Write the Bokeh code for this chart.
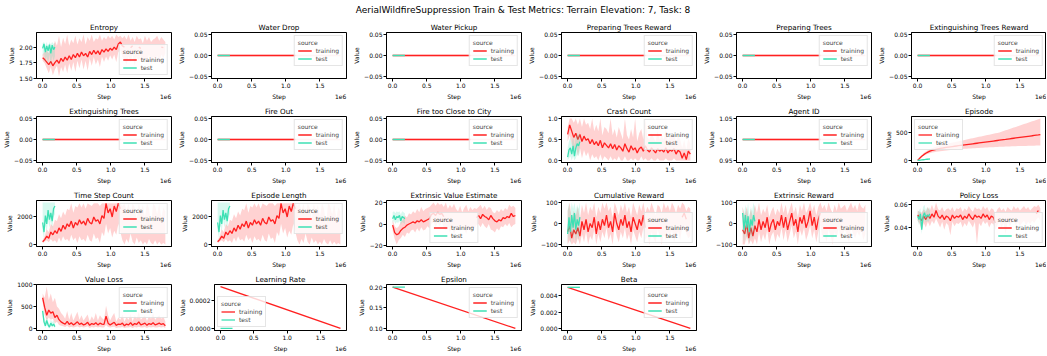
import math
from bokeh.plotting import figure
from bokeh.models import Range1d, FixedTicker, Div, LinearAxis
from bokeh.layouts import column, row
from bokeh.embed import file_html
from bokeh.resources import INLINE

nan = float("nan")
FONT = "DejaVu Sans"
TRAIN_COLOR = "#ff2020"
TEST_COLOR = "#3ee0b4"
TRAIN_BAND_LINE = "#ffc8c8"
LINE_W = 1.3

SUPTITLE = "AerialWildfireSuppression Train & Test Metrics: Terrain Elevation: 7, Task: 8"
X_TICKS = [0.0, 0.5, 1.0, 1.5]
X_TICK_LABELS = ["0.0", "0.5", "1.0", "1.5"]
X_LABEL = "Step"
Y_LABEL = "Value"
X_OFFSET_TEXT = "1e6"

# steps, in millions
TRAIN_STEPS = [0.00, 0.03, 0.06, 0.09, 0.12, 0.15, 0.18, 0.21, 0.24, 0.27,
               0.30, 0.33, 0.36, 0.39, 0.42, 0.45, 0.48, 0.51, 0.54, 0.57,
               0.60, 0.63, 0.66, 0.69, 0.72, 0.75, 0.78, 0.81, 0.84, 0.87,
               0.90, 0.93, 0.96, 0.99, 1.02, 1.05, 1.08, 1.11, 1.14, 1.17,
               1.20, 1.23, 1.26, 1.29, 1.32, 1.35, 1.38, 1.41, 1.44, 1.47,
               1.50, 1.53, 1.56, 1.59, 1.62, 1.65, 1.68, 1.71, 1.74, 1.77,
               1.80]
TEST_STEPS = [0.00, 0.02, 0.04, 0.06, 0.08, 0.10, 0.12, 0.14, 0.16, 0.18]

# ---- Entropy
ENTROPY_TRAIN = [1.83, 1.80, 1.76, 1.72, 1.77, 1.70, 1.75, 1.79, 1.74, 1.82,
                 1.77, 1.84, 1.79, 1.86, 1.80, 1.88, 1.83, 1.90, 1.84, 1.92,
                 1.86, 1.90, 1.84, 1.93, 1.88, 1.95, 1.89, 1.94, 1.88, 1.96,
                 1.92, 1.97, 1.93, 1.98, 1.95, 2.00, 1.96, 2.05, 2.08, 2.02,
                 2.00, nan, nan, 1.99, 2.02, nan, nan, 2.00, 1.98, nan,
                 nan, nan, nan, nan, nan, nan, nan, nan, 2.00, 1.99,
                 nan]
ENTROPY_TRAIN_LO = [1.78, 1.74, 1.66, 1.58, 1.68, 1.55, 1.64, 1.70, 1.53, 1.68,
                    1.60, 1.72, 1.58, 1.74, 1.62, 1.76, 1.60, 1.78, 1.66, 1.80,
                    1.64, 1.78, 1.62, 1.82, 1.70, 1.84, 1.72, 1.80, 1.68, 1.85,
                    1.76, 1.85, 1.78, 1.87, 1.80, 1.88, 1.76, 1.92, 1.95, 1.84,
                    1.80, 1.72, 1.85, 1.76, 1.88, 1.70, 1.84, 1.78, 1.86, 1.74,
                    1.82, 1.76, 1.88, 1.72, 1.84, 1.80, 1.86, 1.74, 1.88, 1.82,
                    1.90]
ENTROPY_TRAIN_HI = [1.88, 1.92, 1.95, 1.90, 2.00, 1.96, 2.10, 2.02, 2.18, 2.00,
                    2.15, 2.05, 2.20, 2.02, 2.12, 2.06, 2.18, 2.04, 2.14, 2.08,
                    2.20, 2.04, 2.16, 2.10, 2.20, 2.08, 2.14, 2.12, 2.20, 2.10,
                    2.16, 2.12, 2.18, 2.14, 2.18, 2.12, 2.20, 2.16, 2.18, 2.14,
                    2.18, 2.12, 2.20, 2.10, 2.16, 2.08, 2.18, 2.12, 2.14, 2.06,
                    2.18, 2.10, 2.16, 2.08, 2.12, 2.14, 2.18, 2.10, 2.16, 2.12,
                    2.08]
ENTROPY_TEST = [1.98, 2.05, 1.92, 2.02, 1.94, 2.04, 1.90, 2.03, 1.96, 2.00]
ENTROPY_TEST_LO = [1.85, 1.90, 1.75, 1.85, 1.72, 1.88, 1.70, 1.86, 1.78, 1.85]
ENTROPY_TEST_HI = [2.06, 2.08, 2.02, 2.08, 2.00, 2.08, 2.04, 2.08, 2.05, 2.07]
ENTROPY_YTICKS = [1.5, 1.75, 2.0]
ENTROPY_YLABELS = ["1.50", "1.75", "2.00"]

# ---- flat metrics (all zero): mean drawn to 1.14e6, band to 1.8e6
FLAT_MEAN_STEPS = [0.0, 1.14]
FLAT_BAND_STEPS = [0.0, 1.80]
FLAT_TEST_STEPS = [0.0, 0.18]
ZERO_PAIR = [0.0, 0.0]
ZERO_YTICKS = [-0.05, 0.0, 0.05]
ZERO_YLABELS = ["\u22120.05", "0.00", "0.05"]

# ---- Agent ID
ONE_PAIR = [1.0, 1.0]
AGENT_YTICKS = [0.95, 1.0, 1.05]
AGENT_YLABELS = ["0.95", "1.00", "1.05"]

# ---- Crash Count
CRASH_TRAIN = [0.62, 0.85, 0.70, 0.55, 0.65, 0.50, 0.62, 0.45, 0.58, 0.48,
               0.52, 0.40, 0.50, 0.38, 0.45, 0.35, 0.48, 0.30, 0.42, 0.36,
               0.30, 0.40, 0.28, 0.38, 0.25, 0.35, 0.30, 0.22, 0.40, 0.28,
               0.20, 0.35, 0.25, 0.30, 0.18, 0.28, 0.32, 0.22, 0.35, 0.25,
               0.20, 0.30, 0.24, 0.18, 0.28, 0.22, 0.26, 0.20, 0.30, 0.18,
               0.25, 0.22, 0.28, 0.15, 0.24, 0.20, 0.05, 0.18, 0.02, 0.22,
               0.15]
CRASH_TRAIN_LO = [0.45, 0.60, 0.40, 0.20, 0.35, 0.10, 0.30, 0.05, 0.25, 0.10,
                  0.20, 0.00, 0.15, 0.05, 0.10, 0.00, 0.15, 0.00, 0.10, 0.05,
                  0.00, 0.10, 0.00, 0.05, 0.00, 0.10, 0.00, 0.00, 0.10, 0.00,
                  0.00, 0.05, 0.00, 0.05, 0.00, 0.00, 0.10, 0.00, 0.05, 0.00,
                  0.00, 0.05, 0.00, 0.00, 0.05, 0.00, 0.00, 0.00, 0.05, 0.00,
                  0.00, 0.00, 0.05, 0.00, 0.00, 0.00, 0.00, 0.00, 0.00, 0.00,
                  0.00]
CRASH_TRAIN_HI = [0.80, 1.00, 1.00, 0.90, 1.00, 0.85, 1.00, 0.80, 1.00, 0.85,
                  0.90, 0.75, 1.00, 0.70, 0.85, 0.70, 1.00, 0.60, 0.80, 0.75,
                  0.65, 1.00, 0.60, 0.75, 0.55, 0.80, 0.65, 0.50, 1.00, 0.60,
                  0.50, 0.75, 0.55, 1.00, 0.45, 0.65, 0.75, 0.50, 1.00, 0.55,
                  0.50, 0.65, 0.55, 0.45, 0.70, 0.50, 0.60, 0.50, 0.75, 0.45,
                  0.60, 0.55, 0.65, 0.40, 0.60, 0.50, 0.30, 0.50, 0.25, 0.55,
                  0.40]
CRASH_TEST = [0.08, 0.25, 0.30, 0.15, 0.35, 0.10, 0.30, 0.40, 0.35, 0.45]
CRASH_TEST_LO = [0.00, 0.05, 0.10, 0.00, 0.10, 0.00, 0.05, 0.15, 0.10, 0.20]
CRASH_TEST_HI = [0.30, 0.45, 0.55, 0.40, 0.60, 0.35, 0.55, 0.65, 0.60, 0.70]
CRASH_YTICKS = [0.0, 0.5, 1.0]
CRASH_YLABELS = ["0.0", "0.5", "1.0"]

# ---- Episode
EPISODE_TRAIN = [0, 40, 75, 105, 130, 150, 168, 182, 193, 202,
                 210, 217, 224, 230, 236, 242, 247, 252, 257, 262,
                 267, 272, 277, 282, 287, 292, 297, 302, 307, 312,
                 317, 322, 327, 332, 337, 342, 347, 352, 357, 362,
                 367, 372, 377, 382, 388, 393, 398, 403, 408, 413,
                 418, 423, 428, 433, 438, 443, 448, 454, 459, 464,
                 470]
EPISODE_TRAIN_LO = [0, 30, 60, 85, 105, 120, 132, 142, 150, 157,
                    163, 168, 173, 177, 181, 185, 189, 192, 195, 198,
                    201, 204, 207, 210, 213, 215, 218, 220, 223, 225,
                    227, 229, 231, 233, 235, 237, 239, 241, 243, 245,
                    246, 248, 250, 251, 253, 254, 256, 257, 259, 260,
                    261, 262, 263, 264, 265, 266, 267, 268, 269, 270,
                    270]
EPISODE_TRAIN_HI = [0, 55, 95, 135, 160, 185, 205, 220, 235, 248,
                    260, 270, 280, 290, 300, 308, 316, 324, 332, 340,
                    348, 356, 364, 372, 380, 388, 396, 404, 412, 420,
                    428, 436, 444, 452, 460, 468, 476, 484, 492, 500,
                    508, 520, 533, 546, 558, 571, 584, 596, 609, 622,
                    634, 647, 660, 672, 685, 697, 710, 722, 735, 748,
                    760]
EPISODE_TEST = [0, 3, 6, 9, 12, 15, 18, 21, 24, 26]
EPISODE_TEST_LO = [0, 1, 3, 5, 7, 9, 11, 13, 15, 17]
EPISODE_TEST_HI = [0, 5, 9, 13, 17, 21, 25, 29, 33, 35]
EPISODE_YTICKS = [0, 500]
EPISODE_YLABELS = ["0", "500"]

# ---- Time Step Count / Episode Length
STEPCOUNT_TRAIN = [200, 350, 600, 450, 900, 700, 1000, 800, 1200, 950,
                   1400, 1100, 1500, 1300, 1700, 1200, 1600, 1400, 1800, 1500,
                   1700, 1400, 1900, 1600, 1500, 2000, 1700, 1800, 1500, 2100,
                   1900, 3000, 2300, 2600, 2000, 2800, 2400, 3000, 2600, nan,
                   nan, nan, nan, nan, nan, nan, nan, nan, nan, nan,
                   nan, nan, nan, nan, nan, nan, nan, nan, nan, nan,
                   nan]
STEPCOUNT_TRAIN_LO = [100, 200, 300, 150, 400, 200, 300, 100, 500, 200,
                      600, 300, 400, 200, 700, 300, 500, 100, 600, 300,
                      400, 200, 700, 300, 200, 800, 400, 500, 100, 900,
                      600, 1500, 800, 1200, 500, 1000, 700, 1500, 900, 300,
                      0, 400, 100, 800, 200, 0, 500, 100, 300, 0,
                      200, 0, 400, 100, 0, 300, 0, 200, 0, 100,
                      0]
STEPCOUNT_TRAIN_HI = [300, 600, 1100, 900, 1500, 1300, 1800, 1700, 2200, 1900,
                      2400, 2100, 2600, 2500, 3000, 2300, 2800, 2700, 3000, 2700,
                      3000, 2600, 3000, 2900, 2800, 3000, 3000, 3000, 2800, 3000,
                      3000, 3000, 3000, 3000, 3000, 3000, 3000, 3000, 3000, 2800,
                      3000, 2500, 3000, 2200, 3000, 2700, 1800, 3000, 2400, 2900,
                      2000, 3000, 2600, 1500, 3000, 2800, 2200, 3000, 1900, 2700,
                      2400]
STEPCOUNT_TEST = [1600, 900, 2100, 1500, 2500, 1800, 2300, 1700, 2600, 2800]
STEPCOUNT_TEST_LO = [1000, 400, 1400, 900, 1800, 1200, 1700, 1100, 2000, 2200]
STEPCOUNT_TEST_HI = [3050, 3050, 3050, 3050, 3050, 3050, 3050, 3050, 3050, 3050]
STEPCOUNT_YTICKS = [0, 2000]
STEPCOUNT_YLABELS = ["0", "2000"]

# ---- Extrinsic Value Estimate
VALUE_EST_TRAIN = [-1, -8, -10, -9, -6, -4, -3, -1, 0, 1,
                   2, 1, 3, 2, 4, 2, 3, 4, 5, 9,
                   10, 8, 11, 9, 10, 7, nan, nan, nan, nan,
                   nan, nan, nan, nan, nan, nan, nan, nan, nan, nan,
                   nan, 6, 8, 5, 9, 7, 6, 4, 8, 5,
                   3, 2, 4, 3, 6, 5, 7, 6, 10, 7,
                   8]
VALUE_EST_TRAIN_LO = [-6, -14, -19, -15, -13, -10, -12, -8, -9, -6,
                      -5, -8, -4, -7, -3, -6, -5, -2, -4, 0,
                      2, -3, 1, -2, 3, -4, -6, -2, -8, -3,
                      -10, -4, -2, -7, -1, -5, -9, -2, -6, -3,
                      -4, -1, 0, -3, 1, -2, -4, 0, -5, -6,
                      -8, -4, -6, -2, -3, 0, -2, 1, -3, -1,
                      0]
VALUE_EST_TRAIN_HI = [4, -2, -4, -2, 2, 4, 8, 6, 10, 9,
                      12, 10, 14, 11, 16, 12, 14, 15, 16, 18,
                      20, 17, 20, 18, 19, 16, 20, 14, 18, 15,
                      19, 14, 12, 17, 11, 15, 18, 12, 16, 13,
                      15, 14, 16, 18, 14, 17, 13, 16, 15, 11,
                      10, 13, 11, 14, 12, 15, 13, 18, 16, 17,
                      15]
VALUE_EST_TEST = [5, 8, 4, 7, 6, 8, 3, 7, 6, 5]
VALUE_EST_TEST_LO = [1, 3, 0, 2, 1, 3, -1, 2, 1, 0]
VALUE_EST_TEST_HI = [11, 12, 10, 12, 11, 12, 9, 12, 11, 10]
VALUE_EST_YTICKS = [-20, 0, 20]
VALUE_EST_YLABELS = ["\u221220", "0", "20"]

# ---- Cumulative Reward
CUM_REWARD_TRAIN = [-40, -10, -70, -30, -50, -20, -60, 10, -30, 20,
                    -40, 0, -20, 30, -50, 10, -30, 20, -10, 40,
                    -20, 10, -40, 50, 0, -30, 20, -10, 40, -20,
                    10, -40, 30, 0, -30, 20, -10, 40, -20, nan,
                    nan, nan, nan, nan, nan, nan, nan, nan, nan, nan,
                    nan, nan, nan, nan, nan, nan, 30, 50, 20, nan,
                    nan]
CUM_REWARD_TRAIN_LO = [-100, -80, -100, -90, -100, -70, -100, -50, -90, -40,
                       -100, -60, -80, -30, -100, -50, -90, -40, -70, -20,
                       -80, -50, -100, -10, -60, -90, -40, -70, -20, -80,
                       -50, -100, -30, -60, -90, -40, -70, -20, -80, -60,
                       -100, -40, -70, -90, -30, -60, -100, -50, -80, -40,
                       -70, -30, -90, -60, -40, -80, -20, -10, -50, -70,
                       -60]
CUM_REWARD_TRAIN_HI = [60, 100, 20, 60, 40, 80, 20, 90, 50, 100,
                       40, 80, 60, 100, 30, 80, 50, 100, 70, 100,
                       60, 80, 30, 100, 70, 40, 90, 60, 100, 50,
                       80, 30, 100, 70, 40, 90, 60, 100, 50, 80,
                       60, 100, 70, 40, 90, 80, 50, 100, 70, 90,
                       60, 100, 80, 50, 90, 70, 100, 90, 60, 80,
                       70]
CUM_REWARD_TEST = [-50, 30, -40, 40, -20, 50, -30, 20, -10, 30]
CUM_REWARD_TEST_LO = [-100, -40, -100, -30, -90, -20, -100, -50, -80, -40]
CUM_REWARD_TEST_HI = [60, 100, 50, 100, 70, 100, 60, 90, 70, 100]
REWARD_YTICKS = [-100, 0, 100]
REWARD_YLABELS = ["\u2212100", "0", "100"]

# ---- Extrinsic Reward
EXT_REWARD_TRAIN = [-30, -50, 0, -70, -20, -60, -10, -40, 20, -30,
                    10, -20, 30, -40, 0, 20, -30, 10, -10, 40,
                    -20, 30, -30, 10, 50, -10, 20, -40, 30, 0,
                    40, -20, 10, 60, -10, 30, -30, 20, 50, nan,
                    nan, nan, nan, nan, nan, nan, nan, nan, nan, nan,
                    nan, nan, nan, nan, nan, nan, nan, nan, nan, nan,
                    nan]
EXT_REWARD_TRAIN_LO = [-100, -100, -60, -100, -80, -100, -70, -100, -40, -90,
                       -50, -80, -30, -100, -60, -40, -90, -50, -70, -20,
                       -80, -30, -90, -50, -10, -70, -40, -100, -30, -60,
                       -20, -80, -50, -10, -70, -30, -90, -40, -10, -70,
                       -50, -90, -30, -60, -100, -40, -70, -20, -80, -50,
                       -30, -60, -90, -20, -50, -70, -40, -60, -30, -80,
                       -50]
EXT_REWARD_TRAIN_HI = [80, 40, 80, 20, 70, 30, 90, 50, 100, 40,
                       70, 50, 90, 30, 60, 80, 40, 70, 50, 100,
                       50, 90, 40, 70, 100, 50, 80, 30, 90, 60,
                       100, 50, 70, 100, 60, 90, 40, 80, 100, 70,
                       90, 60, 100, 70, 50, 90, 60, 100, 70, 80,
                       90, 60, 80, 100, 70, 90, 60, 100, 80, 70,
                       90]
EXT_REWARD_TEST = [50, -30, 40, -20, 35, -40, 20, -10, 40, 10]
EXT_REWARD_TEST_LO = [-20, -100, -30, -90, -40, -100, -50, -80, -30, -60]
EXT_REWARD_TEST_HI = [80, 40, 90, 50, 100, 30, 80, 60, 100, 70]

# ---- Policy Loss
POLICY_TRAIN = [0.051, 0.049, 0.046, 0.050, 0.047, 0.051, 0.048, 0.052, 0.049, 0.055,
                0.050, 0.048, 0.051, 0.047, 0.050, 0.049, 0.046, 0.051, 0.048, 0.050,
                0.049, 0.051, 0.047, 0.050, 0.048, 0.052, 0.049, 0.047, 0.051, 0.049,
                0.050, 0.048, 0.052, 0.049, 0.051, 0.047, 0.050, 0.049, 0.044, nan,
                nan, nan, nan, nan, nan, nan, nan, nan, nan, nan,
                nan, nan, nan, nan, nan, nan, nan, nan, 0.052, 0.055,
                nan]
POLICY_TRAIN_LO = [0.046, 0.043, 0.038, 0.044, 0.040, 0.045, 0.041, 0.046, 0.043, 0.048,
                   0.044, 0.040, 0.045, 0.038, 0.044, 0.042, 0.033, 0.045, 0.041, 0.044,
                   0.043, 0.045, 0.040, 0.044, 0.041, 0.046, 0.043, 0.040, 0.045, 0.025,
                   0.044, 0.041, 0.046, 0.043, 0.045, 0.040, 0.044, 0.043, 0.038, 0.042,
                   0.045, 0.040, 0.044, 0.034, 0.045, 0.041, 0.044, 0.046, 0.042, 0.045,
                   0.041, 0.044, 0.046, 0.042, 0.045, 0.043, 0.046, 0.044, 0.047, 0.049,
                   0.046]
POLICY_TRAIN_HI = [0.055, 0.054, 0.053, 0.056, 0.054, 0.058, 0.055, 0.060, 0.055, 0.062,
                   0.056, 0.055, 0.058, 0.054, 0.056, 0.057, 0.055, 0.058, 0.054, 0.057,
                   0.056, 0.058, 0.054, 0.057, 0.055, 0.059, 0.056, 0.054, 0.058, 0.056,
                   0.057, 0.055, 0.059, 0.056, 0.058, 0.054, 0.057, 0.056, 0.052, 0.056,
                   0.058, 0.055, 0.057, 0.054, 0.058, 0.056, 0.055, 0.059, 0.056, 0.058,
                   0.055, 0.057, 0.059, 0.056, 0.058, 0.055, 0.057, 0.059, 0.058, 0.060,
                   0.057]
POLICY_TEST = [0.050, 0.047, 0.052, 0.038, 0.050, 0.053, 0.049, 0.051, 0.050, 0.052]
POLICY_TEST_LO = [0.046, 0.042, 0.047, 0.034, 0.045, 0.048, 0.044, 0.046, 0.045, 0.047]
POLICY_TEST_HI = [0.054, 0.055, 0.057, 0.050, 0.058, 0.060, 0.055, 0.058, 0.056, 0.058]
POLICY_YTICKS = [0.04, 0.06]
POLICY_YLABELS = ["0.04", "0.06"]

# ---- Value Loss
VALUE_LOSS_TRAIN = [700, 480, 300, 420, 350, 380, 250, 300, 200, 150,
                    120, 100, 160, 90, 130, 80, 110, 150, 90, 120,
                    80, 100, 140, 70, 110, 90, 130, 80, 120, 100,
                    90, 280, 120, 80, 110, 140, 70, 100, 90, 120,
                    60, 100, 80, 130, 70, 110, 90, 150, 80, 100,
                    120, 70, 110, 90, 130, 80, 100, 120, 90, 110,
                    60]
VALUE_LOSS_TRAIN_LO = [600, 300, 180, 250, 200, 220, 120, 150, 80, 60,
                       50, 30, 60, 20, 40, 20, 30, 50, 20, 40,
                       20, 30, 50, 10, 30, 20, 40, 20, 30, 20,
                       20, 80, 30, 20, 30, 40, 10, 20, 20, 30,
                       10, 20, 20, 30, 10, 30, 20, 40, 20, 20,
                       30, 10, 30, 20, 30, 20, 20, 30, 20, 30,
                       10]
VALUE_LOSS_TRAIN_HI = [800, 700, 955, 650, 800, 600, 700, 500, 450, 350,
                       300, 220, 400, 200, 350, 180, 280, 380, 200, 300,
                       180, 250, 320, 160, 280, 200, 350, 180, 300, 240,
                       200, 520, 300, 180, 280, 350, 160, 250, 200, 320,
                       150, 260, 200, 330, 160, 300, 220, 380, 200, 250,
                       300, 170, 280, 220, 350, 200, 260, 300, 220, 280,
                       150]
VALUE_LOSS_TEST = [400, 150, 60, 180, 80, 30, 120, 60, 100, 40]
VALUE_LOSS_TEST_LO = [300, 80, 10, 100, 30, 0, 60, 20, 50, 10]
VALUE_LOSS_TEST_HI = [500, 250, 150, 280, 160, 90, 200, 140, 180, 110]
VALUE_LOSS_YTICKS = [0, 500, 1000]
VALUE_LOSS_YLABELS = ["0", "500", "1000"]

# ---- schedules
LINEAR_TRAIN_STEPS = [0.0, 1.80]
LR_TRAIN = [0.0003, 0.0]
LR_TEST = [0.0, 0.0]
LR_YTICKS = [0.0, 0.0002]
LR_YLABELS = ["0.0000", "0.0002"]
EPSILON_TRAIN = [0.2, 0.1]
EPSILON_TEST = [0.2, 0.2]
EPSILON_TEST_LO = [0.1995, 0.1995]
EPSILON_TEST_HI = [0.2015, 0.2015]
EPSILON_YTICKS = [0.1, 0.15, 0.2]
EPSILON_YLABELS = ["0.10", "0.15", "0.20"]
BETA_TRAIN = [0.005, 0.00001]
BETA_TEST = [0.005, 0.005]
BETA_TEST_LO = [0.00495, 0.00495]
BETA_TEST_HI = [0.0051, 0.0051]
BETA_YTICKS = [0.0, 0.002, 0.004]
BETA_YLABELS = ["0.000", "0.002", "0.004"]


def spec(title, tx, ty, tlo, thi, sx, sy, slo, shi, yt, yl, loc, bx=None):
    return dict(title=title, tx=tx, ty=ty, tlo=tlo, thi=thi, sx=sx, sy=sy,
                slo=slo, shi=shi, yt=yt, yl=yl, loc=loc, bx=bx if bx is not None else tx)


def flat(title, pair=ZERO_PAIR, yt=ZERO_YTICKS, yl=ZERO_YLABELS):
    return spec(title, FLAT_MEAN_STEPS, pair, pair, pair,
                FLAT_TEST_STEPS, pair, pair, pair, yt, yl, "top_right",
                bx=FLAT_BAND_STEPS)


ROWS = [
    [spec("Entropy", TRAIN_STEPS, ENTROPY_TRAIN, ENTROPY_TRAIN_LO, ENTROPY_TRAIN_HI,
          TEST_STEPS, ENTROPY_TEST, ENTROPY_TEST_LO, ENTROPY_TEST_HI,
          ENTROPY_YTICKS, ENTROPY_YLABELS, "bottom_right"),
     flat("Water Drop"), flat("Water Pickup"), flat("Preparing Trees Reward"),
     flat("Preparing Trees"), flat("Extinguishing Trees Reward")],
    [flat("Extinguishing Trees"), flat("Fire Out"), flat("Fire too Close to City"),
     spec("Crash Count", TRAIN_STEPS, CRASH_TRAIN, CRASH_TRAIN_LO, CRASH_TRAIN_HI,
          TEST_STEPS, CRASH_TEST, CRASH_TEST_LO, CRASH_TEST_HI,
          CRASH_YTICKS, CRASH_YLABELS, "top_right"),
     flat("Agent ID", ONE_PAIR, AGENT_YTICKS, AGENT_YLABELS),
     spec("Episode", TRAIN_STEPS, EPISODE_TRAIN, EPISODE_TRAIN_LO, EPISODE_TRAIN_HI,
          TEST_STEPS, EPISODE_TEST, EPISODE_TEST_LO, EPISODE_TEST_HI,
          EPISODE_YTICKS, EPISODE_YLABELS, "top_left")],
    [spec("Time Step Count", TRAIN_STEPS, STEPCOUNT_TRAIN, STEPCOUNT_TRAIN_LO, STEPCOUNT_TRAIN_HI,
          TEST_STEPS, STEPCOUNT_TEST, STEPCOUNT_TEST_LO, STEPCOUNT_TEST_HI,
          STEPCOUNT_YTICKS, STEPCOUNT_YLABELS, "top_right"),
     spec("Episode Length", TRAIN_STEPS, STEPCOUNT_TRAIN, STEPCOUNT_TRAIN_LO, STEPCOUNT_TRAIN_HI,
          TEST_STEPS, STEPCOUNT_TEST, STEPCOUNT_TEST_LO, STEPCOUNT_TEST_HI,
          STEPCOUNT_YTICKS, STEPCOUNT_YLABELS, "top_right"),
     spec("Extrinsic Value Estimate", TRAIN_STEPS, VALUE_EST_TRAIN, VALUE_EST_TRAIN_LO, VALUE_EST_TRAIN_HI,
          TEST_STEPS, VALUE_EST_TEST, VALUE_EST_TEST_LO, VALUE_EST_TEST_HI,
          VALUE_EST_YTICKS, VALUE_EST_YLABELS, "bottom_center"),
     spec("Cumulative Reward", TRAIN_STEPS, CUM_REWARD_TRAIN, CUM_REWARD_TRAIN_LO, CUM_REWARD_TRAIN_HI,
          TEST_STEPS, CUM_REWARD_TEST, CUM_REWARD_TEST_LO, CUM_REWARD_TEST_HI,
          REWARD_YTICKS, REWARD_YLABELS, "bottom_right"),
     spec("Extrinsic Reward", TRAIN_STEPS, EXT_REWARD_TRAIN, EXT_REWARD_TRAIN_LO, EXT_REWARD_TRAIN_HI,
          TEST_STEPS, EXT_REWARD_TEST, EXT_REWARD_TEST_LO, EXT_REWARD_TEST_HI,
          REWARD_YTICKS, REWARD_YLABELS, "bottom_right"),
     spec("Policy Loss", TRAIN_STEPS, POLICY_TRAIN, POLICY_TRAIN_LO, POLICY_TRAIN_HI,
          TEST_STEPS, POLICY_TEST, POLICY_TEST_LO, POLICY_TEST_HI,
          POLICY_YTICKS, POLICY_YLABELS, "bottom_right")],
    [spec("Value Loss", TRAIN_STEPS, VALUE_LOSS_TRAIN, VALUE_LOSS_TRAIN_LO, VALUE_LOSS_TRAIN_HI,
          TEST_STEPS, VALUE_LOSS_TEST, VALUE_LOSS_TEST_LO, VALUE_LOSS_TEST_HI,
          VALUE_LOSS_YTICKS, VALUE_LOSS_YLABELS, "top_right"),
     spec("Learning Rate", LINEAR_TRAIN_STEPS, LR_TRAIN, LR_TRAIN, LR_TRAIN,
          FLAT_TEST_STEPS, LR_TEST, LR_TEST, LR_TEST,
          LR_YTICKS, LR_YLABELS, "bottom_left"),
     spec("Epsilon", LINEAR_TRAIN_STEPS, EPSILON_TRAIN, EPSILON_TRAIN, EPSILON_TRAIN,
          FLAT_TEST_STEPS, EPSILON_TEST, EPSILON_TEST_LO, EPSILON_TEST_HI,
          EPSILON_YTICKS, EPSILON_YLABELS, "top_right"),
     spec("Beta", LINEAR_TRAIN_STEPS, BETA_TRAIN, BETA_TRAIN, BETA_TRAIN,
          FLAT_TEST_STEPS, BETA_TEST, BETA_TEST_LO, BETA_TEST_HI,
          BETA_YTICKS, BETA_YLABELS, "top_right")],
]

FRAME_W = 135
FIG_H = 84
BORDER_L, BORDER_T, BORDER_B = 36, 14, 23
BORDER_R = [4, 4, 4, 4, 4, 0]
TITLE_H = 18


def padded_range(vals, frac=0.05):
    v = [x for x in vals if x == x]
    lo, hi = min(v), max(v)
    if hi == lo:
        d = 0.05 * abs(lo) if lo != 0 else 0.05
        lo, hi = lo - d, hi + d
    pad = frac * (hi - lo)
    return Range1d(lo - pad, hi + pad)


def degenerate(lo, hi):
    return all((a == b) for a, b in zip(lo, hi))


def style_axis(ax):
    ax.major_label_text_font = FONT
    ax.major_label_text_font_size = "6px"
    ax.major_label_text_color = "black"
    ax.axis_label_text_font = FONT
    ax.axis_label_text_font_size = "6px"
    ax.axis_label_text_font_style = "normal"
    ax.axis_label_text_color = "black"
    ax.major_tick_out = 3
    ax.major_tick_in = 0
    ax.minor_tick_out = 0
    ax.minor_tick_in = 0
    ax.major_label_standoff = 1
    ax.axis_label_standoff = 1
    ax.axis_line_color = "black"
    ax.major_tick_line_color = "black"


def make_panel(s, col):
    xr = padded_range(list(s["bx"]) + list(s["tx"]) + list(s["sx"]))
    yr = padded_range(list(s["ty"]) + list(s["tlo"]) + list(s["thi"]) +
                      list(s["sy"]) + list(s["slo"]) + list(s["shi"]))
    right = BORDER_R[col]
    p = figure(width=BORDER_L + FRAME_W + right, height=FIG_H, x_range=xr, y_range=yr,
               min_border_left=BORDER_L, min_border_right=right,
               min_border_top=BORDER_T, min_border_bottom=BORDER_B,
               output_backend="svg", toolbar_location=None, title=s["title"])
    p.title.align = "center"
    p.title.text_font = FONT
    p.title.text_font_size = "7.2px"
    p.title.text_font_style = "normal"
    p.title.text_color = "black"
    p.title.standoff = 1
    p.xgrid.visible = False
    p.ygrid.visible = False
    p.outline_line_color = "black"
    p.outline_line_alpha = 1
    p.outline_line_width = 1
    p.background_fill_color = "white"

    # training band (a flat band shows as a thin pale line)
    if degenerate(s["tlo"], s["thi"]):
        if s["bx"] is not s["tx"]:
            p.line(s["bx"], [s["tlo"][0], s["tlo"][-1]], line_color=TRAIN_BAND_LINE, line_width=LINE_W)
    else:
        p.varea(x=s["tx"], y1=s["tlo"], y2=s["thi"], fill_color=TRAIN_COLOR, fill_alpha=0.2)
    p.line(s["tx"], s["ty"], line_color=TRAIN_COLOR, line_width=LINE_W, legend_label="training")
    # test
    if not degenerate(s["slo"], s["shi"]):
        p.varea(x=s["sx"], y1=s["slo"], y2=s["shi"], fill_color=TEST_COLOR, fill_alpha=0.2)
    p.line(s["sx"], s["sy"], line_color=TEST_COLOR, line_width=LINE_W, legend_label="test")

    xax = p.xaxis[0]
    yax = p.yaxis[0]
    xax.ticker = FixedTicker(ticks=X_TICKS)
    xax.major_label_overrides = {t: l for t, l in zip(X_TICKS, X_TICK_LABELS)}
    yax.ticker = FixedTicker(ticks=s["yt"])
    yax.major_label_overrides = {t: l for t, l in zip(s["yt"], s["yl"])}
    yax.axis_label = Y_LABEL
    style_axis(xax)
    style_axis(yax)

    # second row under the tick labels: axis label "Step" centred, offset "1e6" at the right end
    span = xr.end - xr.start
    x_mid = xr.start + span / 2
    x_off = xr.end - span * 5.8 / FRAME_W
    lab = LinearAxis(ticker=FixedTicker(ticks=[x_mid, x_off]),
                     major_label_overrides={x_mid: X_LABEL, x_off: X_OFFSET_TEXT})
    style_axis(lab)
    lab.major_tick_out = 0
    lab.axis_line_color = None
    lab.major_tick_line_color = None
    lab.major_label_standoff = 2
    p.add_layout(lab, "below")

    lg = p.legend[0]
    lg.location = s["loc"]
    lg.title = "source"
    lg.title_text_font = FONT
    lg.title_text_font_size = "6px"
    lg.title_text_font_style = "normal"
    lg.title_standoff = 1
    lg.label_text_font = FONT
    lg.label_text_font_size = "6px"
    lg.glyph_width = 14
    lg.glyph_height = 7
    lg.label_height = 7
    lg.label_standoff = 4
    lg.padding = 3
    lg.spacing = 1
    lg.margin = 3
    lg.border_line_color = "#cccccc"
    lg.background_fill_alpha = 0.8
    return p


title_div = Div(text=SUPTITLE, width=1046, height=TITLE_H, margin=0,
                styles={"text-align": "center", "font-family": FONT,
                        "font-size": "9px", "line-height": "21px", "color": "black"})

layout = column([title_div] + [row([make_panel(s, i) for i, s in enumerate(r)]) for r in ROWS])

open("out.html", "w").write(file_html(layout, INLINE))
